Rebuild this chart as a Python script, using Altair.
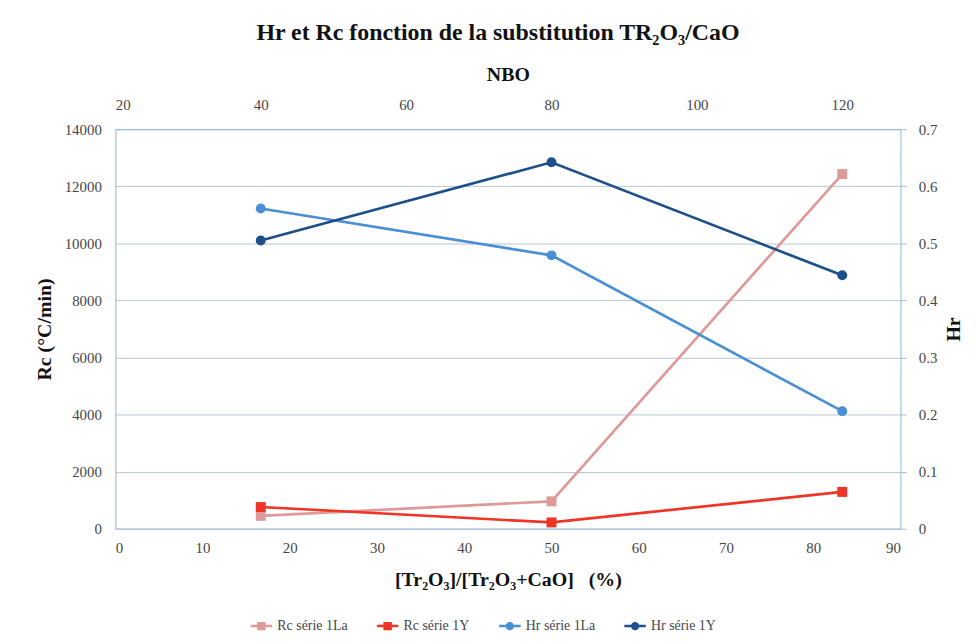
import altair as alt
import pandas as pd

# ---- data ----
x_pct = [16.67, 50.0, 83.33]          # [Tr2O3]/[Tr2O3+CaO] (%)
nbo = [40, 80, 120]                   # NBO (top axis)
series = ["Rc série 1La", "Rc série 1Y", "Hr série 1La", "Hr série 1Y"]
rc_1la = [450, 960, 12430]
rc_1y = [760, 220, 1290]
hr_1la = [0.561, 0.479, 0.206]
hr_1y = [0.505, 0.642, 0.444]
colors = ["#dd9a98", "#ee3526", "#4a8fd6", "#1d4f8a"]
x_ticks = [0, 10, 20, 30, 40, 50, 60, 70, 80, 90]
nbo_ticks = [20, 40, 60, 80, 100, 120]
rc_ticks = [0, 2000, 4000, 6000, 8000, 10000, 12000, 14000]
hr_ticks = [0, 0.1, 0.2, 0.3, 0.4, 0.5, 0.6, 0.7]

rows = []
for name, vals in zip(series[:2], [rc_1la, rc_1y]):
    for x, n, v in zip(x_pct, nbo, vals):
        rows.append({"serie": name, "x": x, "nbo": n, "val": v})
rc_df = pd.DataFrame(rows)
rows = []
for name, vals in zip(series[2:], [hr_1la, hr_1y]):
    for x, n, v in zip(x_pct, nbo, vals):
        rows.append({"serie": name, "x": x, "nbo": n, "val": v})
hr_df = pd.DataFrame(rows)
legend_df = pd.DataFrame({"serie": series})

SERIF = "Liberation Serif"
DOMAIN = "#a3c0d4"
GRID = "#b5c6d4"
LABEL = "#464646"

x_scale = alt.Scale(domain=[0, 90], nice=False, zero=False)
rc_scale = alt.Scale(domain=[0, 14000], nice=False)
hr_scale = alt.Scale(domain=[0, 0.7], nice=False)

x_axis = alt.Axis(
    orient="bottom", values=x_ticks, grid=False, ticks=False,
    domainColor=DOMAIN, domainWidth=1.2,
    labelFont=SERIF, labelFontSize=15, labelColor=LABEL, labelPadding=12,
    title="[Tr₂O₃]/[Tr₂O₃+CaO]\u00a0\u00a0\u00a0(%)", titleFont=SERIF, titleFontSize=20,
    titleFontWeight="bold", titleColor="#111111", titlePadding=14,
)
rc_axis = alt.Axis(
    orient="left", values=rc_ticks, format="d", grid=True, gridColor=GRID,
    gridWidth=1, ticks=False, domainColor=DOMAIN, domainWidth=1.2,
    labelFont=SERIF, labelFontSize=15, labelColor=LABEL, labelPadding=14,
    title="Rc (°C/min)", titleFont=SERIF, titleFontSize=20, titleFontWeight="bold",
    titleColor="#111111", titlePadding=10,
)
hr_axis = alt.Axis(
    orient="right", values=hr_ticks, format="~g", grid=False, ticks=True,
    tickSize=6, tickColor=DOMAIN, domainColor=DOMAIN, domainWidth=1.2,
    labelFont=SERIF, labelFontSize=15, labelColor=LABEL, labelPadding=12,
    title="Hr", titleFont=SERIF, titleFontSize=20, titleFontWeight="bold",
    titleColor="#111111", titlePadding=27, titleAngle=270,
)
nbo_axis = alt.Axis(
    orient="top", values=nbo_ticks, grid=False, ticks=False,
    domainColor=DOMAIN, domainWidth=1.2,
    labelFont=SERIF, labelFontSize=15, labelColor=LABEL, labelPadding=17,
    title="NBO", titleFont=SERIF, titleFontSize=20, titleFontWeight="bold",
    titleColor="#111111", titlePadding=13,
)

# plotted layers: colour scale with a data-driven domain (kept in series order)
col = alt.Color("serie:N", sort=series, scale=alt.Scale(range=colors), legend=None)

rc_line = alt.Chart(rc_df).mark_line(strokeWidth=2.7).encode(
    x=alt.X("x:Q", scale=x_scale, axis=x_axis),
    y=alt.Y("val:Q", scale=rc_scale, axis=rc_axis),
    color=col, detail="serie:N",
)
rc_pts = alt.Chart(rc_df).mark_square(size=100, opacity=1).encode(
    x=alt.X("x:Q", scale=x_scale), y=alt.Y("val:Q", scale=rc_scale), color=col,
)
rc_group = alt.layer(rc_line, rc_pts)

hr_line = alt.Chart(hr_df).mark_line(strokeWidth=2.7).encode(
    x=alt.X("x:Q", scale=x_scale, axis=None),
    y=alt.Y("val:Q", scale=hr_scale, axis=hr_axis),
    color=col, detail="serie:N",
)
hr_pts = alt.Chart(hr_df).mark_circle(size=100, opacity=1).encode(
    x=alt.X("x:Q", scale=x_scale, axis=None), y=alt.Y("val:Q", scale=hr_scale),
    color=col,
)
hr_group = alt.layer(hr_line, hr_pts)

nbo_layer = alt.Chart(rc_df).mark_point(opacity=0).encode(
    x=alt.X("nbo:Q", scale=alt.Scale(domain=[20, 128], nice=False, zero=False), axis=nbo_axis),
    y=alt.Y("val:Q", scale=rc_scale, axis=None),
)

# legend: line + marker symbols; fill/stroke/shape share one explicit domain
sq_path = "M-3.6,0L3.6,0M-1,-1L1,-1L1,1L-1,1Z"
ci_path = "M-3.6,0L3.6,0M1,0A1,1,0,1,1,-1,0A1,1,0,1,1,1,0Z"
leg = alt.Legend(
    title=None, orient="none", legendX=140, legendY=493, direction="horizontal",
    padding=0, symbolSize=36, symbolStrokeWidth=2.5, symbolOpacity=1,
    labelFont=SERIF, labelFontSize=14, labelColor=LABEL, labelOffset=9,
    columnPadding=24,
)
legend_layer = alt.Chart(legend_df).mark_point(opacity=0, filled=True).encode(
    fill=alt.Fill("serie:N", scale=alt.Scale(domain=series, range=colors), legend=leg),
    stroke=alt.Stroke("serie:N", scale=alt.Scale(domain=series, range=colors), legend=leg),
    shape=alt.Shape("serie:N",
                    scale=alt.Scale(domain=series, range=[sq_path, sq_path, ci_path, ci_path]),
                    legend=leg),
)

chart = alt.layer(rc_group, hr_group, nbo_layer, legend_layer).resolve_scale(
    x="independent", y="independent"
).properties(
    width=790, height=402,
    title=alt.TitleParams(
        text="Hr et Rc fonction de la substitution TR₂O₃/CaO",
        font=SERIF, fontSize=24, fontWeight="bold", color="#111111",
        anchor="middle", dx=-10, offset=20,
    ),
    autosize=alt.AutoSizeParams(type="none"),
    padding={"left": 108, "top": 120, "right": 68, "bottom": 110},
    background="white",
).configure_view(strokeWidth=0)

chart.save("out.html", embed_options={"renderer": "svg", "actions": False})
